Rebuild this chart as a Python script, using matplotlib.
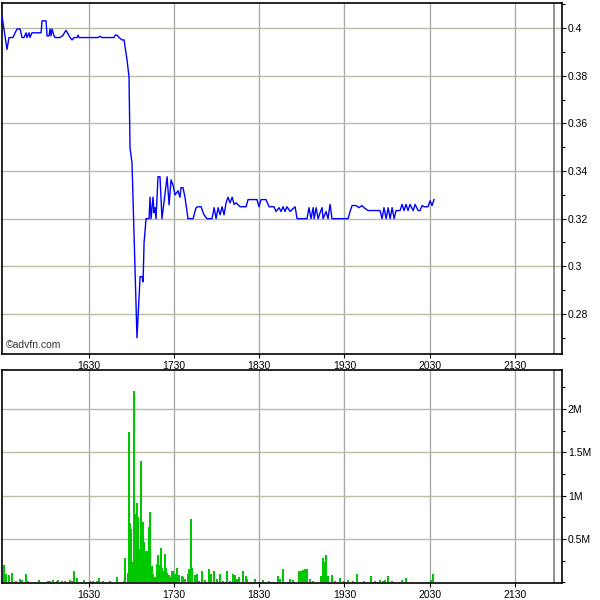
import matplotlib
matplotlib.use('Agg')
import matplotlib.pyplot as plt
from matplotlib.ticker import MultipleLocator, FuncFormatter

plt.rcParams['font.family'] = ['Liberation Sans', 'DejaVu Sans']
plt.rcParams['font.size'] = 7.5

# time = minutes after 15:00
price_t = [29.0, 32.5, 33.9, 36.7, 38.2, 39.6, 41.7, 43.1, 44.5, 45.9, 46.6, 48.0, 48.7, 50.1,
           51.5, 56.5, 57.2, 60.0, 60.7, 62.1, 62.8, 63.5, 64.2, 65.6, 66.3, 69.8, 72.0, 73.4,
           74.1, 75.5, 76.9, 78.3, 79.7, 81.8, 82.5, 83.2, 96.6, 98.0, 99.4, 107.8, 108.6, 110.0,
           111.4, 113.5, 114.9, 117.0, 118.4, 119.1, 120.5, 124.0, 126.2, 127.6, 128.3, 129.0,
           130.4, 132.5, 133.2, 133.9, 135.3, 136.0, 136.7, 137.4, 138.8, 140.2, 141.6, 145.2,
           146.6, 148.0, 149.4, 150.8, 152.9, 154.3, 155.0, 156.4, 157.8, 159.9, 163.5, 165.6,
           167.0, 169.1, 171.2, 173.3, 176.8, 178.3, 179.7, 181.1, 182.5, 183.9, 185.3, 186.7,
           188.1, 189.5, 191.0, 192.4, 193.8, 196.6, 200.8, 202.2, 208.5, 209.9, 211.3, 214.8,
           217.0, 220.5, 221.9, 224.0, 225.4, 226.8, 228.2, 229.6, 231.8, 235.3, 236.7, 243.7,
           245.1, 246.5, 248.0, 248.7, 250.1, 251.5, 252.9, 254.3, 255.0, 257.1, 258.5, 259.9,
           261.3, 272.6, 274.0, 275.4, 278.2, 280.3, 282.4, 283.8, 286.7, 295.1, 296.5, 297.9,
           299.4, 300.8, 302.2, 303.6, 305.0, 306.4, 309.2, 310.6, 312.0, 313.4, 314.8, 316.2,
           318.4, 319.8, 321.9, 323.3, 324.7, 326.1, 328.9, 330.3, 331.7, 333.1]
price = [0.405, 0.391, 0.396, 0.396, 0.398, 0.3996, 0.3996, 0.396, 0.396, 0.398, 0.396, 0.398, 0.396, 0.398,
         0.398, 0.398, 0.403, 0.403, 0.3967, 0.3967, 0.3996, 0.3967, 0.3996, 0.3967, 0.396, 0.396, 0.397, 0.3985,
         0.399, 0.3975, 0.396, 0.395, 0.396, 0.396, 0.397, 0.396, 0.396, 0.3965, 0.396, 0.396, 0.397, 0.397,
         0.396, 0.395, 0.395, 0.3866, 0.3795, 0.3497, 0.3434, 0.270, 0.2957, 0.2957, 0.2935, 0.310,
         0.320, 0.320, 0.329, 0.320, 0.329, 0.3225, 0.3246, 0.320, 0.3376, 0.3376, 0.320, 0.3376,
         0.3258, 0.3363, 0.334, 0.330, 0.3317, 0.329, 0.333, 0.333, 0.329, 0.320, 0.320, 0.3246,
         0.325, 0.325, 0.3216, 0.320, 0.320, 0.3246, 0.320, 0.3246, 0.3216, 0.325, 0.3216, 0.3266,
         0.329, 0.3266, 0.329, 0.326, 0.3266, 0.325, 0.325, 0.328, 0.328, 0.325, 0.328, 0.328,
         0.325, 0.325, 0.323, 0.3246, 0.323, 0.325, 0.323, 0.325, 0.323, 0.325, 0.320, 0.320,
         0.3246, 0.320, 0.3246, 0.320, 0.3246, 0.320, 0.3225, 0.3246, 0.320, 0.323, 0.320, 0.326,
         0.320, 0.320, 0.323, 0.3255, 0.3255, 0.3246, 0.3255, 0.3246, 0.3234, 0.3234, 0.320, 0.3246,
         0.320, 0.3246, 0.320, 0.3246, 0.320, 0.3234, 0.3234, 0.326, 0.3234, 0.326, 0.3234, 0.326,
         0.3234, 0.326, 0.3234, 0.3234, 0.3255, 0.325, 0.325, 0.3275, 0.3255, 0.328]

# volume in millions
vol_t = [30.4, 31.8, 33.9, 36.0, 38.9, 41.7, 43.1, 45.9, 47.3, 55.0,
         61.4, 62.8, 64.9, 67.7, 68.4, 71.2, 73.4, 76.9, 78.3, 79.7,
         81.8, 86.7, 91.0, 93.1, 95.9, 97.3, 100.1, 105.0, 110.0, 114.9,
         115.6, 117.7, 118.4, 119.1, 119.8, 121.2, 121.9, 122.6, 123.3, 124.0,
         124.7, 126.2, 126.9, 127.6, 128.3, 129.0, 130.4, 131.1, 131.8, 132.5,
         133.2, 134.6, 135.3, 136.7, 138.1, 138.8, 139.5, 140.9, 141.6, 142.3,
         143.8, 144.5, 145.2, 146.6, 147.3, 148.7, 149.4, 150.8, 152.2, 153.6,
         155.7, 156.4, 157.8, 159.9, 160.6, 162.0, 162.7, 164.8, 166.3, 167.7,
         169.8, 171.9, 174.7, 176.1, 178.2, 180.4, 182.5, 184.6, 187.4, 189.5,
         191.6, 193.0, 194.4, 195.8, 198.7, 200.8, 201.5, 207.1, 212.7, 217.0,
         223.3, 224.7, 226.8, 231.8, 233.9, 238.1, 239.5, 240.9, 242.3, 243.7,
         245.8, 247.9, 253.6, 255.0, 255.7, 257.1, 258.5, 261.3, 263.4, 266.9,
         269.8, 272.6, 276.1, 278.9, 283.8, 288.8, 291.6, 295.1, 297.2, 298.6,
         300.7, 303.6, 310.6, 313.4, 331.0, 332.4]
vol = [0.20, 0.10, 0.08, 0.11, 0.02, 0.04, 0.03, 0.10, 0.01, 0.03,
       0.02, 0.01, 0.03, 0.02, 0.03, 0.01, 0.01, 0.03, 0.02, 0.13,
       0.05, 0.03, 0.01, 0.02, 0.02, 0.05, 0.02, 0.01, 0.06, 0.02,
       0.28, 0.11, 1.74, 0.68, 0.61, 0.23, 2.21, 0.79, 0.65, 0.91,
       0.75, 0.38, 1.40, 0.52, 0.70, 0.46, 0.36, 0.26, 0.36, 0.64,
       0.81, 0.19, 0.10, 0.06, 0.21, 0.31, 0.20, 0.40, 0.17, 0.13,
       0.33, 0.17, 0.11, 0.08, 0.06, 0.13, 0.13, 0.10, 0.16, 0.08,
       0.07, 0.06, 0.04, 0.10, 0.15, 0.73, 0.16, 0.08, 0.10, 0.02,
       0.13, 0.03, 0.15, 0.10, 0.13, 0.04, 0.10, 0.02, 0.13, 0.01,
       0.10, 0.08, 0.04, 0.06, 0.13, 0.07, 0.04, 0.04, 0.03, 0.02,
       0.07, 0.04, 0.15, 0.04, 0.03, 0.13, 0.13, 0.14, 0.15, 0.15,
       0.04, 0.02, 0.07, 0.28, 0.23, 0.31, 0.07, 0.08, 0.02, 0.05,
       0.02, 0.03, 0.02, 0.10, 0.01, 0.07, 0.02, 0.03, 0.02, 0.03,
       0.07, 0.02, 0.03, 0.05, 0.03, 0.10]

tick_pos = [90, 150, 210, 270, 330, 390]
tick_labels = ['1630', '1730', '1830', '1930', '2030', '2130']
session_end = 417.6
x_min, x_max = 29.2, 423.4


def style_axes(ax):
    ax.set_facecolor('white')
    for s in ax.spines.values():
        s.set_color('black')
        s.set_linewidth(1.2)
    ax.yaxis.tick_right()
    ax.tick_params(axis='y', which='major', direction='out', length=3, width=0.8, pad=1)
    ax.tick_params(axis='y', which='minor', direction='out', length=2, width=0.8)
    ax.tick_params(axis='x', direction='out', length=3, width=0.8, pad=2)
    ax.set_xticks(tick_pos)
    ax.set_xticklabels(tick_labels)
    ax.set_xlim(x_min, x_max)
    ax.grid(True, axis='x', color='#a8aca8', linewidth=1.0)
    ax.grid(True, axis='y', color='#bcbca4', linewidth=1.0)
    ax.set_axisbelow(True)
    ax.axvline(session_end, color='#808080', linewidth=1.2, zorder=1)


fig = plt.figure(figsize=(6, 6), dpi=100)

ax1 = fig.add_axes([2.3 / 600, 1 - 354 / 600, 560 / 600, 351 / 600])
style_axes(ax1)
ax1.plot(price_t, price, color='#0000ff', linewidth=1.0, zorder=3)
ax1.set_ylim(0.2632, 0.4105)
ax1.set_yticks([0.28, 0.30, 0.32, 0.34, 0.36, 0.38, 0.40])
ax1.yaxis.set_major_formatter(FuncFormatter(lambda v, p: ('%.2f' % v).rstrip('0')))
ax1.yaxis.set_minor_locator(MultipleLocator(0.01))
ax1.text(0.006, 0.012, '\u00a9advfn.com', transform=ax1.transAxes, fontsize=7.5,
         color='#333333', ha='left', va='bottom')

ax2 = fig.add_axes([2.3 / 600, 1 - 583 / 600, 560 / 600, 213 / 600])
style_axes(ax2)
ax2.bar(vol_t, vol, width=1.0, color='#00c800', linewidth=0, antialiased=False, zorder=3)
ax2.set_ylim(-0.008, 2.45)
ax2.set_yticks([0.5, 1.0, 1.5, 2.0])
ax2.set_yticklabels(['0.5M', '1M', '1.5M', '2M'])
ax2.yaxis.set_minor_locator(MultipleLocator(0.25))

fig.savefig('out.png', dpi=100, facecolor='white')
